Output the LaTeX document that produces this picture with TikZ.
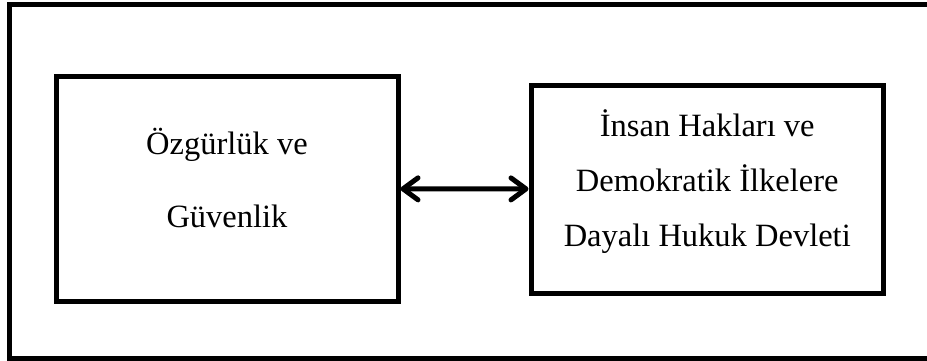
\documentclass[tikz,border=0pt]{standalone}
\usepackage{fontspec}
\setmainfont{Liberation Serif}
\usetikzlibrary{arrows.meta}

\begin{document}
\begin{tikzpicture}[x=1pt,y=-1pt,
        box/.style={draw,line width=5pt,inner sep=0pt},
        txt/.style={align=center,inner sep=0pt}]
            \useasboundingbox (0,0) rectangle (927,360);
            \draw[line width=5pt] (9.5,4.5) rectangle (930,358);
            \node[box,minimum width=342pt,minimum height=224.5pt] (freedom) at (227,188.75) {};
            \node[box,minimum width=352.5pt,minimum height=208pt] (state) at (707.25,189) {};
            \node[txt,font=\fontsize{32.5}{73}\selectfont] (freedomtxt) at (freedom.center) [yshift=10.5pt] {Özgürlük ve\\Güvenlik};
            \node[txt,font=\fontsize{32.5}{55}\selectfont] (statetxt) at (state.center) [yshift=7pt] {İnsan Hakları ve\\Demokratik İlkelere\\Dayalı Hukuk Devleti};
            \draw[line width=5pt,{Straight Barb[round,length=15pt,width=22pt]}-{Straight Barb[round,length=15pt,width=22pt]}] (freedom) -- (state);
        \end{tikzpicture}
\end{document}
